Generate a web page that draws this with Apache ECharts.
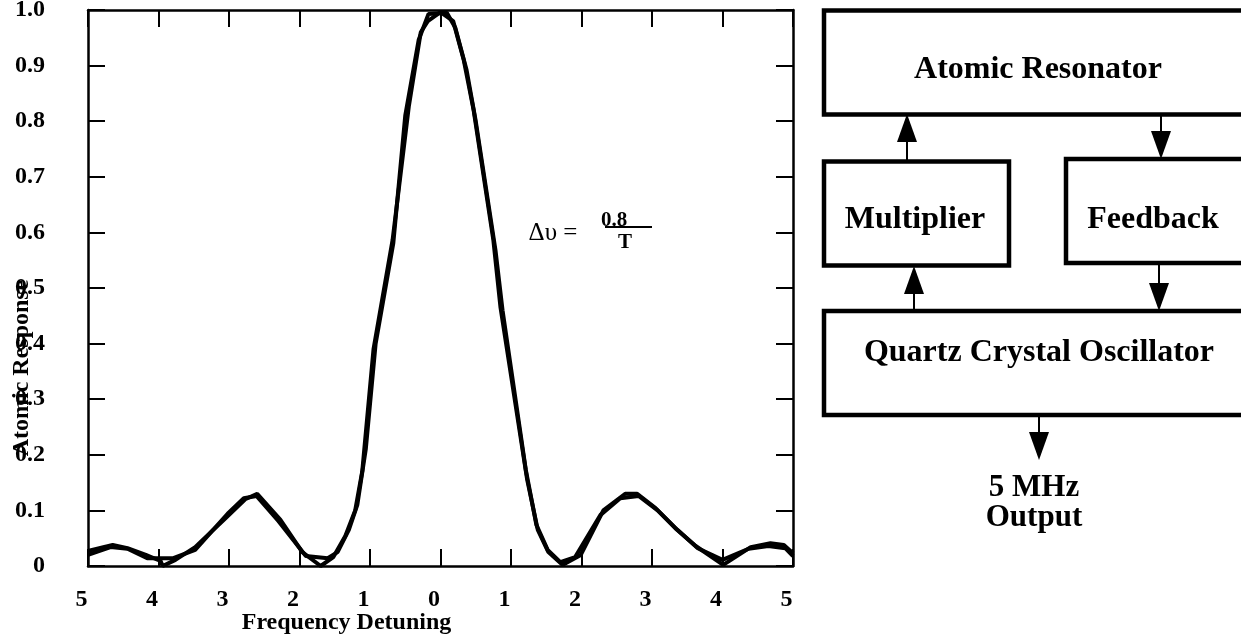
<!DOCTYPE html>
<html>
<head>
<meta charset="utf-8">
<script src="https://cdn.jsdelivr.net/npm/echarts@6/dist/echarts.min.js"></script>
<style>
  html, body { margin: 0; padding: 0; background: #fff; }
  #main { width: 1241px; height: 634px; }
</style>
</head>
<body>
<div id="main"></div>
<script>
// frequency detuning (in units of 1/T) and atomic response, two traces drawn on top of each other
var traceA = [
    [-5.0, 0.027], [-4.65, 0.038], [-4.44, 0.032], [-4.18, 0.020], [-3.97, 0.009],
    [-3.94, 0.0], [-3.76, 0.011], [-3.48, 0.034], [-3.05, 0.086], [-2.77, 0.120],
    [-2.60, 0.130], [-2.27, 0.083], [-1.96, 0.025], [-1.70, 0.0], [-1.52, 0.016],
    [-1.35, 0.054], [-1.21, 0.100], [-1.11, 0.170], [-0.95, 0.390], [-0.68, 0.586],
    [-0.45, 0.826], [-0.28, 0.960], [-0.18, 0.980], [0.0, 0.996], [0.18, 0.980],
    [0.33, 0.910], [0.47, 0.820], [0.75, 0.586], [0.85, 0.466], [1.23, 0.155],
    [1.38, 0.065], [1.53, 0.025], [1.73, 0.002], [1.99, 0.020], [2.31, 0.100],
    [2.62, 0.130], [2.79, 0.130], [3.05, 0.104], [3.33, 0.068], [3.62, 0.036],
    [4.01, 0.002], [4.40, 0.034], [4.68, 0.041], [4.87, 0.038], [5.0, 0.023]
];
var traceB = [
    [-5.0, 0.020], [-4.68, 0.034], [-4.44, 0.031], [-4.16, 0.014], [-3.79, 0.014],
    [-3.48, 0.029], [-3.02, 0.094], [-2.79, 0.122], [-2.61, 0.126], [-2.30, 0.081],
    [-1.91, 0.018], [-1.60, 0.014], [-1.46, 0.025], [-1.30, 0.065], [-1.18, 0.110],
    [-1.06, 0.210], [-0.92, 0.400], [-0.67, 0.580], [-0.50, 0.810], [-0.31, 0.946],
    [-0.17, 0.993], [0.09, 0.995], [0.21, 0.968], [0.37, 0.892], [0.50, 0.800],
    [0.78, 0.568], [0.88, 0.460], [1.21, 0.173], [1.36, 0.074], [1.52, 0.029],
    [1.70, 0.007], [1.91, 0.016], [2.27, 0.092], [2.55, 0.122], [2.81, 0.126],
    [3.08, 0.100], [3.36, 0.065], [3.65, 0.032], [4.00, 0.011], [4.37, 0.031],
    [4.65, 0.036], [4.89, 0.032], [5.0, 0.018]
];
var xName = 'Frequency Detuning';
var yName = 'Atomic Response';
var blockLabels = ['Atomic Resonator', 'Multiplier', 'Feedback', 'Quartz Crystal Oscillator', '5 MHz\nOutput'];

var serif = '"Liberation Serif", "Times New Roman", serif';
var axisLineStyle = { color: '#000', width: 2.5 };
var tickStyle = { show: true, inside: true, length: 17, lineStyle: { color: '#000', width: 2 } };

function box(x, y, w, h) {
    return {
        type: 'rect',
        shape: { x: x, y: y, width: w, height: h },
        style: { fill: 'none', stroke: '#000', lineWidth: 4.5 }
    };
}
function label(text, x, y, size, weight) {
    return {
        type: 'text',
        x: x, y: y,
        style: {
            text: text, fill: '#000',
            fontFamily: serif, fontSize: size, fontWeight: weight || 'bold',
            align: 'center', verticalAlign: 'middle', lineHeight: 30
        }
    };
}
// vertical arrow, tip at (x, y2)
function arrow(x, y1, y2) {
    var dir = y2 > y1 ? 1 : -1;
    var base = y2 - dir * 28;
    return [{
        type: 'line',
        shape: { x1: x, y1: y1, x2: x, y2: base },
        style: { stroke: '#000', lineWidth: 2 }
    }, {
        type: 'polygon',
        shape: { points: [[x - 10, base], [x + 10, base], [x, y2]] },
        style: { fill: '#000' }
    }];
}

var graphics = [
    box(824, 10.5, 430, 104),
    box(824, 161.5, 185, 104),
    box(1066, 159, 200, 104),
    box(824, 311, 430, 104),
    label(blockLabels[0], 1038, 70, 32),
    label(blockLabels[1], 915, 220, 32),
    label(blockLabels[2], 1153, 220, 32),
    label(blockLabels[3], 1039, 353, 32),
    label(blockLabels[4], 1034, 503, 31),
    // formula inside the plot
    label('Δυ =', 553, 233, 25, 'normal'),
    label('0.8', 614, 221, 21),
    {
        type: 'line', shape: { x1: 605, y1: 227, x2: 652, y2: 227 },
        style: { stroke: '#000', lineWidth: 2 }
    },
    label('T', 625, 243, 21)
]
.concat(arrow(907, 161, 114))
.concat(arrow(1161, 114, 159))
.concat(arrow(914, 311, 266))
.concat(arrow(1159, 263, 311))
.concat(arrow(1039, 413, 460));

var myChart = echarts.init(document.getElementById('main'));
var option = {
    backgroundColor: '#fff',
    animation: false,
    grid: { left: 88, right: 448, top: 10, bottom: 68, containLabel: false, outerBoundsMode: 'none' },
    xAxis: [{
        type: 'value',
        min: -5, max: 5, interval: 1,
        position: 'bottom',
        name: xName,
        nameLocation: 'middle',
        nameGap: 45,
        nameMoveOverlap: false,
        nameTextStyle: { color: '#000', fontFamily: serif, fontWeight: 'bold', fontSize: 24, padding: [0, 188, 0, 0] },
        axisLine: { onZero: false, lineStyle: axisLineStyle },
        axisTick: tickStyle,
        splitLine: { show: false },
        axisLabel: {
            color: '#000', fontFamily: serif, fontWeight: 'bold', fontSize: 24,
            margin: 22, padding: [0, 13, 0, 0],
            formatter: function (v) { return String(Math.abs(v)); }
        }
    }, {
        type: 'value',
        min: -5, max: 5, interval: 1,
        position: 'top',
        axisLine: { onZero: false, lineStyle: axisLineStyle },
        axisTick: tickStyle,
        splitLine: { show: false },
        axisLabel: { show: false }
    }],
    yAxis: [{
        type: 'value',
        min: 0, max: 1, interval: 0.1,
        position: 'left',
        name: yName,
        nameLocation: 'middle',
        nameGap: 54,
        nameMoveOverlap: false,
        nameTextStyle: { color: '#000', fontFamily: serif, fontWeight: 'bold', fontSize: 24, padding: [0, 160, 0, 0] },
        axisLine: { show: true, onZero: false, lineStyle: axisLineStyle },
        axisTick: tickStyle,
        splitLine: { show: false },
        axisLabel: {
            color: '#000', fontFamily: serif, fontWeight: 'bold', fontSize: 24, margin: 43,
            formatter: function (v) { return v === 0 ? '0' : v.toFixed(1); }
        }
    }, {
        type: 'value',
        min: 0, max: 1, interval: 0.1,
        position: 'right',
        axisLine: { show: true, onZero: false, lineStyle: axisLineStyle },
        axisTick: tickStyle,
        splitLine: { show: false },
        axisLabel: { show: false }
    }],
    series: [{
        name: 'trace A',
        type: 'line',
        data: traceA,
        showSymbol: false,
        smooth: false,
        lineStyle: { color: '#000', width: 4 }
    }, {
        name: 'trace B',
        type: 'line',
        data: traceB,
        showSymbol: false,
        smooth: false,
        lineStyle: { color: '#000', width: 4 }
    }],
    graphic: graphics
};
myChart.setOption(option);
</script>
</body>
</html>
